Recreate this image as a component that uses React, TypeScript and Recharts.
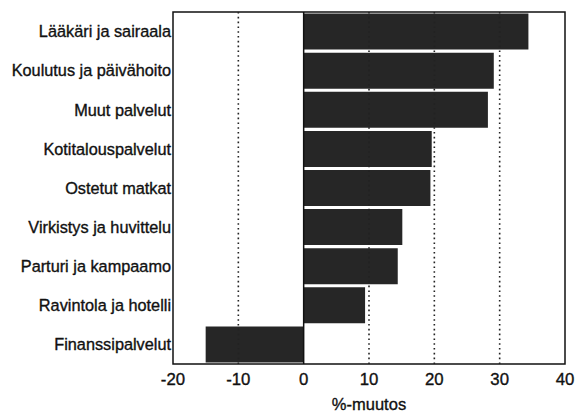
import React from 'react';
import { BarChart, Bar, XAxis, YAxis, ReferenceLine, ReferenceArea } from 'recharts';

const categories = [
  'Lääkäri ja sairaala',
  'Koulutus ja päivähoito',
  'Muut palvelut',
  'Kotitalouspalvelut',
  'Ostetut matkat',
  'Virkistys ja huvittelu',
  'Parturi ja kampaamo',
  'Ravintola ja hotelli',
  'Finanssipalvelut',
];
const changes = [34.4, 29.1, 28.2, 19.6, 19.4, 15.1, 14.4, 9.4, -15.0];
const xTicks = [-20, -10, 0, 10, 20, 30, 40];
const gridValues = [-10, 10, 20, 30];
const xLabel = '%-muutos';

const data = categories.map((name, i) => ({ name, value: changes[i] }));

const font = '"Liberation Sans", Arial, sans-serif';
const textStyle = { fill: '#111', fontFamily: font, stroke: '#111', strokeWidth: 0.35 };

export default function App() {
  return (
    <div style={{ position: 'absolute', left: 0, top: 0, background: '#fff' }}>
      <BarChart
        width={575}
        height={413}
        data={data}
        layout="vertical"
        margin={{ top: 12, right: 10, left: 0, bottom: 0 }}
        barCategoryGap="4%"
      >
        <XAxis
          type="number"
          domain={[-20, 40]}
          ticks={xTicks}
          height={49}
          axisLine={false}
          tickLine={false}
          tickSize={0}
          tickMargin={9}
          interval={0}
          tick={{ fontSize: 16.8, ...textStyle }}
          label={{ value: xLabel, position: 'insideBottom', offset: 3, fontSize: 16.5, ...textStyle }}
        />
        <YAxis
          type="category"
          dataKey="name"
          width={173}
          axisLine={false}
          tickLine={false}
          tickSize={0}
          tickMargin={2}
          interval={0}
          tick={{ fontSize: 16.3, ...textStyle }}
        />
        {gridValues.map((v) => (
          <ReferenceLine key={v} x={v} stroke="#222" strokeWidth={1.6} strokeDasharray="1.6 3.2" />
        ))}
        <Bar dataKey="value" fill="#262626" isAnimationActive={false} />
        <ReferenceLine x={0} stroke="#111" strokeWidth={1.5} />
        <ReferenceArea x1={-20} x2={40} fill="none" stroke="#111" strokeWidth={1.5} ifOverflow="visible" />
      </BarChart>
    </div>
  );
}
